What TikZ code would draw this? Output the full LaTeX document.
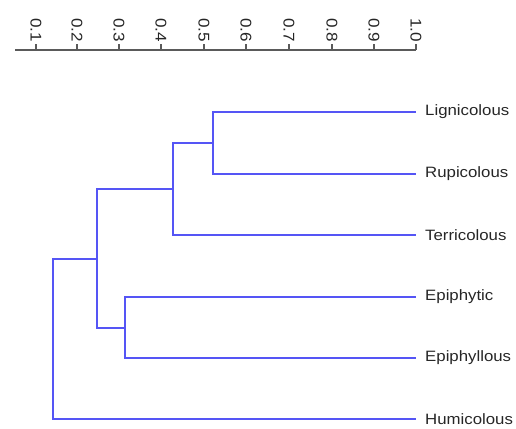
\documentclass[tikz,border=0pt]{standalone}
\usepackage{fontspec}
\usepackage{graphicx}
\setmainfont{Liberation Sans}
\definecolor{dendro}{RGB}{85,85,245}
\definecolor{axisgray}{RGB}{90,90,90}
\tikzset{
  branch/.style={draw=dendro, line width=1.6pt},
  thinbranch/.style={draw=dendro, line width=1.1pt},
  axisline/.style={draw=axisgray, line width=1.2pt},
  leaflabel/.style={anchor=west, inner sep=0pt, font=\fontsize{15}{18}\selectfont, text=black!85},
  ticklabel/.style={anchor=west, rotate=-90, inner sep=0pt, font=\fontsize{15.5}{18}\selectfont, text=black!85}
}
\begin{document}
\begin{tikzpicture}[x=1pt,y=-1pt]
\useasboundingbox (0,0) rectangle (516,428);
% axis
\coordinate (axs) at (15,50);
\coordinate (axe) at (416,50);
\draw[axisline] (axs) -- (axe);
\foreach \v/\x in {0.1/36,0.2/77,0.3/119,0.4/161,0.5/204,0.6/246,0.7/289,0.8/332,0.9/374,1.0/416}{
  \coordinate (t\x) at (\x,50);
  \draw[axisline] (t\x) -- ++(0,-6);
  \node[ticklabel] (l\x) at (\x,18) {\scalebox{1.1}[1]{\v}};
}
% leaves
\coordinate (lig) at (416,112);
\coordinate (rup) at (416,174);
\coordinate (ter) at (416,235);
\coordinate (epi) at (416,297);
\coordinate (eps) at (416,358);
\coordinate (hum) at (416,419);
\node[leaflabel] (Llig) at (425,112) {\scalebox{1.12}[1]{Lignicolous}};
\node[leaflabel] (Lrup) at (425,174) {\scalebox{1.12}[1]{Rupicolous}};
\node[leaflabel] (Lter) at (425,235) {\scalebox{1.12}[1]{Terricolous}};
\node[leaflabel] (Lepi) at (425,297) {\scalebox{1.12}[1]{Epiphytic}};
\node[leaflabel] (Leps) at (425,358) {\scalebox{1.12}[1]{Epiphyllous}};
\node[leaflabel] (Lhum) at (425,419) {\scalebox{1.12}[1]{Humicolous}};
% internal nodes
\coordinate (nLR) at (213,143);
\coordinate (nLRT) at (173,189);
\coordinate (nEE) at (125,328);
\coordinate (nG) at (97,259);
\coordinate (root) at (53,339);
\draw[branch] (nLR) |- (lig);
\draw[branch] (nLR) |- (rup);
\draw[branch] (nLRT) |- (nLR);
\draw[branch] (nLRT) |- (ter);
\draw[thinbranch] (nEE) |- (epi);
\draw[branch] (nEE) |- (eps);
\draw[branch] (nG) |- (nLRT);
\draw[branch] (nG) |- (nEE);
\draw[branch] (root) |- (nG);
\draw[branch] (root) |- (hum);
\end{tikzpicture}
\end{document}
